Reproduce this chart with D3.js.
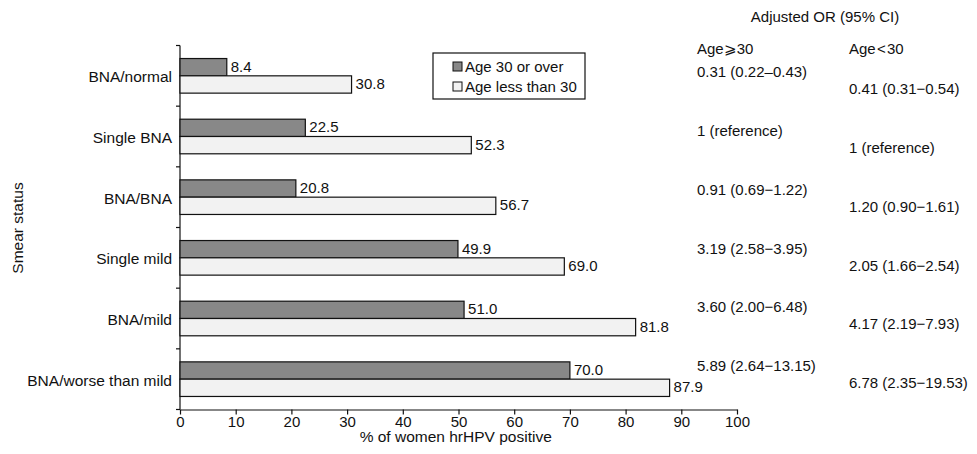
<!DOCTYPE html>
<html>
<head>
<meta charset="utf-8">
<script src="https://cdn.jsdelivr.net/npm/d3@7"></script>
<style>
  body { margin: 0; background: #fff; }
  svg text { font-family: "Liberation Sans", Arial, sans-serif; fill: #111; }
  .axis path, .axis line { stroke: #111; stroke-width: 1.2; }
</style>
</head>
<body>
<div id="chart"></div>
<script>
const categories = ["BNA/normal", "Single BNA", "BNA/BNA", "Single mild", "BNA/mild", "BNA/worse than mild"];
const over30 = [8.4, 22.5, 20.8, 49.9, 51.0, 70.0];
const under30 = [30.8, 52.3, 56.7, 69.0, 81.8, 87.9];
const orOver30 = ["0.31 (0.22\u20130.43)", "1 (reference)", "0.91 (0.69\u22121.22)", "3.19 (2.58\u22123.95)", "3.60 (2.00\u22126.48)", "5.89 (2.64\u221213.15)"];
const orUnder30 = ["0.41 (0.31\u22120.54)", "1 (reference)", "1.20 (0.90\u22121.61)", "2.05 (1.66\u22122.54)", "4.17 (2.19\u22127.93)", "6.78 (2.35\u221219.53)"];
const seriesNames = ["Age 30 or over", "Age less than 30"];
const xTicks = [0, 10, 20, 30, 40, 50, 60, 70, 80, 90, 100];

const W = 977, H = 454;
const margin = {top: 45.5, left: 180, right: 240, bottom: 44.5};
const width = W - margin.left - margin.right;
const height = H - margin.top - margin.bottom;

const svg = d3.select("#chart").append("svg").attr("width", W).attr("height", H);
const g = svg.append("g").attr("transform", `translate(${margin.left},${margin.top})`);

const x = d3.scaleLinear().domain([0, 100]).range([0, width]);
const y = d3.scaleBand().domain(categories).range([0, height]);
const sub = d3.scaleBand().domain([0, 1]).range([0, 34.6]);
const barTop = (c) => y(c) + (y.bandwidth() - 34.6) / 2;

// x axis
g.append("g")
  .attr("class", "axis")
  .attr("transform", `translate(0,${height})`)
  .call(d3.axisBottom(x).tickValues(xTicks).tickSize(5).tickSizeOuter(0).tickPadding(2))
  .call(a => a.selectAll("text").attr("font-size", 15));

// y axis, ticks at band boundaries
const yAxis = g.append("g").attr("class", "axis");
yAxis.append("line").attr("x1", 0).attr("x2", 0).attr("y1", 0).attr("y2", height);
yAxis.selectAll(".tk").data(d3.range(categories.length + 1)).enter().append("line")
  .attr("x1", -4).attr("x2", 0)
  .attr("y1", (i) => i * y.step()).attr("y2", (i) => i * y.step());
yAxis.selectAll(".lbl").data(categories).enter().append("text")
  .attr("x", -8).attr("y", (d) => y(d) + y.bandwidth() / 2 + 1)
  .attr("text-anchor", "end").attr("dy", "0.35em").attr("font-size", 15.5)
  .text((d) => d);

const series = [
  {vals: over30, fill: "#888888"},
  {vals: under30, fill: "#f2f2f2"}
];

series.forEach((s, si) => {
  g.selectAll(".bar" + si).data(categories).enter().append("rect")
    .attr("x", 0)
    .attr("y", (c) => barTop(c) + sub(si))
    .attr("width", (c, i) => x(s.vals[i]))
    .attr("height", sub.bandwidth())
    .attr("fill", s.fill).attr("stroke", "#111").attr("stroke-width", 1.2);
  g.selectAll(".val" + si).data(categories).enter().append("text")
    .attr("x", (c, i) => x(s.vals[i]) + 4)
    .attr("y", (c) => barTop(c) + sub(si) + sub.bandwidth() / 2)
    .attr("dy", "0.3em").attr("font-size", 15)
    .text((c, i) => s.vals[i].toFixed(1));
});

// legend
const lg = svg.append("g").attr("transform", "translate(433,53)");
lg.append("rect").attr("width", 152).attr("height", 46)
  .attr("fill", "#fff").attr("stroke", "#111").attr("stroke-width", 1.2);
seriesNames.forEach((n, i) => {
  lg.append("rect").attr("x", 20).attr("y", 9 + i * 20).attr("width", 9).attr("height", 9)
    .attr("fill", series[i].fill).attr("stroke", "#111").attr("stroke-width", 1);
  lg.append("text").attr("x", 32).attr("y", 13.5 + i * 20).attr("dy", "0.35em")
    .attr("font-size", 15).text(n);
});

// adjusted OR table (its own row spacing)
const col1 = 697, col2 = 849;
const orRow = d3.scalePoint().domain(categories).range([0, 294]);
svg.append("text").attr("x", 825).attr("y", 17).attr("dy", "0.35em")
  .attr("text-anchor", "middle").attr("font-size", 15).text("Adjusted OR (95% CI)");
svg.append("text").attr("x", col1).attr("y", 49).attr("dy", "0.35em")
  .attr("font-size", 15).text("Age\u2A7E30");
svg.append("text").attr("x", col2).attr("y", 49).attr("dy", "0.35em")
  .attr("font-size", 15).text("Age\u200A<\u200A30");
svg.selectAll(".or1").data(categories).enter().append("text")
  .attr("x", col1).attr("y", (c) => 72 + orRow(c))
  .attr("dy", "0.35em").attr("font-size", 15)
  .text((c, i) => orOver30[i]);
svg.selectAll(".or2").data(categories).enter().append("text")
  .attr("x", col2).attr("y", (c) => 89 + orRow(c))
  .attr("dy", "0.35em").attr("font-size", 15)
  .text((c, i) => orUnder30[i]);

// axis titles
svg.append("text").attr("x", margin.left + x(49.5)).attr("y", 437).attr("dy", "0.35em")
  .attr("text-anchor", "middle").attr("font-size", 15.5).text("% of women hrHPV positive");
svg.append("text").attr("transform", "translate(18,228) rotate(-90)")
  .attr("text-anchor", "middle").attr("dy", "0.35em").attr("font-size", 15.5).text("Smear status");
</script>
</body>
</html>
